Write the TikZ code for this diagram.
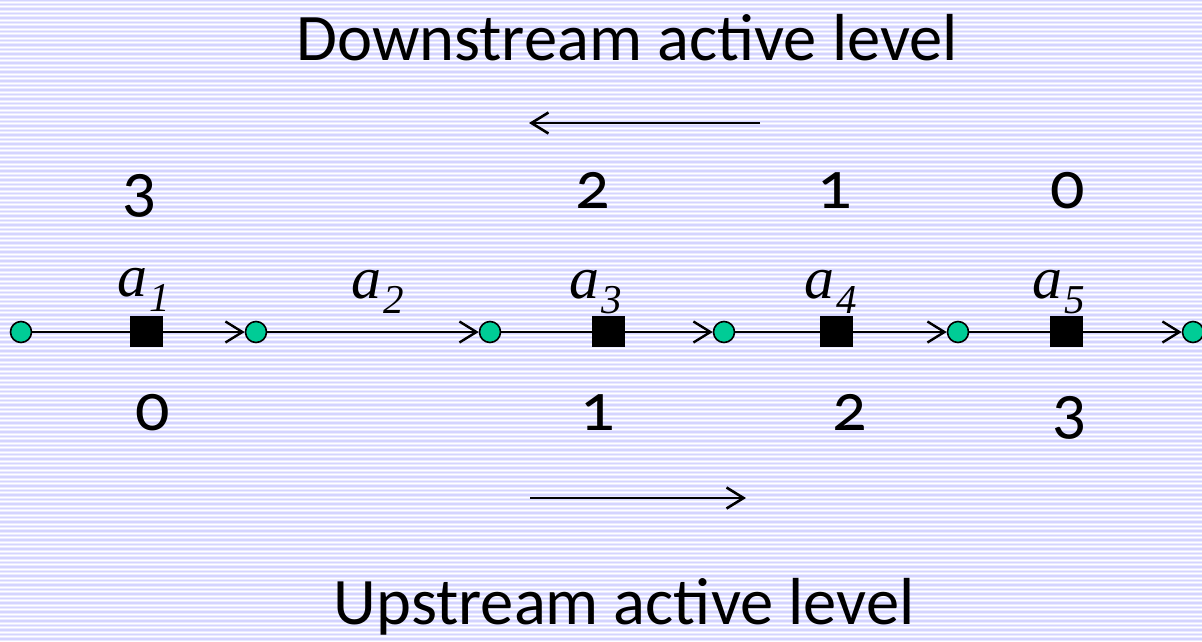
\documentclass[tikz,border=0pt]{standalone}
\usepackage{fontspec}
\setmainfont{Carlito}[Numbers=OldStyle]
\newfontfamily\timesit{Liberation Serif}[ItalicFont=* Italic]
\usetikzlibrary{arrows.meta}
\definecolor{bgbase}{RGB}{234,234,255}
\definecolor{bgstripe}{RGB}{212,212,255}
\definecolor{nodegreen}{RGB}{0,204,150}
\tikzset{
  x=1pt,y=-1pt,
  dot/.style={circle,draw=black,line width=1.6pt,fill=nodegreen,minimum size=21pt,inner sep=0pt},
  blk/.style={rectangle,fill=black,minimum width=33pt,minimum height=31pt,inner sep=0pt},
  edge/.style={line width=2pt,-{Straight Barb[length=17pt,width=21pt,line width=2.4pt]}},
  dirarrow/.style={line width=2.4pt,-{Straight Barb[length=17pt,width=21pt,line width=2.6pt]}},
  title/.style={font=\fontsize{66.5}{66.5}\selectfont,inner sep=0pt,anchor=base},
  num/.style={font=\fontsize{68}{68}\selectfont,inner sep=0pt,anchor=base},
  alab/.style={inner sep=0pt,anchor=base west},
}
\newcommand{\alabel}[1]{{\timesit\itshape\fontsize{60}{60}\selectfont a}\kern2pt\raisebox{-15pt}{\timesit\itshape\fontsize{41}{41}\selectfont #1}}
\begin{document}
\begin{tikzpicture}
\useasboundingbox (0,0) rectangle (1202,641);
\fill[bgbase] (0,0) rectangle (1202,641);
\foreach \i in {0,...,143} {
  \draw[bgstripe,line width=1.6pt] (0,\i*4.5) -- (1202,\i*4.5);
  \draw[white,line width=0.6pt] (0,\i*4.5+2.2) -- (1202,\i*4.5+2.2);
}
% titles
\node[title] (down) at (627,60) {Downstream active level};
\node[title] (up) at (624,624) {Upstream active level};
% direction arrows
\coordinate (ta1) at (760,123);
\coordinate (ta2) at (529,123);
\coordinate (ba1) at (530,498);
\coordinate (ba2) at (746,498);
\draw[dirarrow] (ta1) -- (ta2);
\draw[dirarrow] (ba1) -- (ba2);
% circles
\node[dot] (c0) at (21,332) {};
\node[dot] (c1) at (256,332) {};
\node[dot] (c2) at (490,332) {};
\node[dot] (c3) at (724,332) {};
\node[dot] (c4) at (958,332) {};
\node[dot] (c5) at (1193,332) {};
% connectors
\draw[edge] (c0) -- (c1);
\draw[edge] (c1) -- (c2);
\draw[edge] (c2) -- (c3);
\draw[edge] (c3) -- (c4);
\draw[edge] (c4) -- (c5);
% squares
\node[blk] (s1) at (146,331.5) {};
\node[blk] (s3) at (608,331.5) {};
\node[blk] (s4) at (836,331.5) {};
\node[blk] (s5) at (1066,331.5) {};
% a labels
\node[alab] (a1) at (117,296) {\alabel{1}};
\node[alab] (a2) at (351,298) {\alabel{2}};
\node[alab] (a3) at (569,298) {\alabel{3}};
\node[alab] (a4) at (804,298) {\alabel{4}};
\node[alab] (a5) at (1032,298) {\alabel{5}};
% top numbers
\node[num] (t3) at (140,210) {3};
\node[num] (t2) at (593,208) {2};
\node[num] (t1) at (835,208) {1};
\node[num] (t0) at (1068,208) {0};
% bottom numbers
\node[num] (b0) at (153,430) {0};
\node[num] (b1) at (598,430) {1};
\node[num] (b2) at (850,430) {2};
\node[num] (b3) at (1070,432) {3};
\end{tikzpicture}
\end{document}
